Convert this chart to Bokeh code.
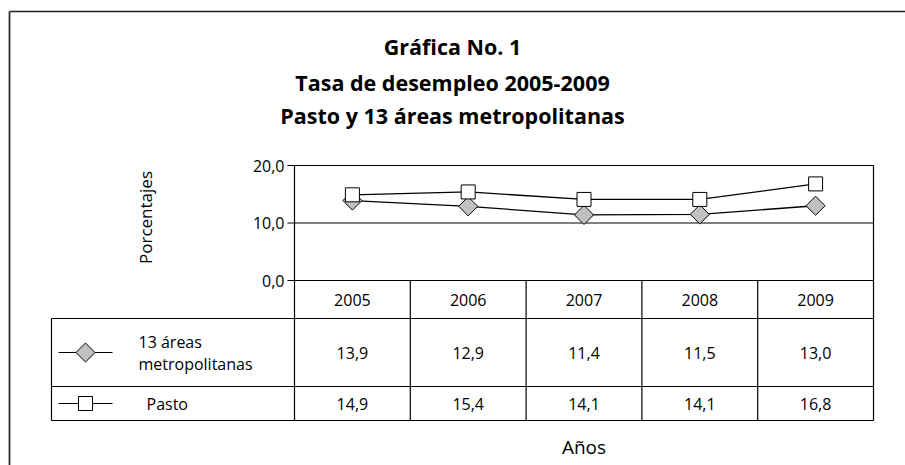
from bokeh.plotting import figure
from bokeh.models import Range1d
from bokeh.core.properties import value
from bokeh.embed import file_html
from bokeh.resources import INLINE
import math

# ---------------- data ----------------
years = ["2005", "2006", "2007", "2008", "2009"]
areas13 = [13.9, 12.9, 11.4, 11.5, 13.0]
pasto = [14.9, 15.4, 14.1, 14.1, 16.8]
y_ticks = [0, 10, 20]
series1_label = ["13 áreas", "metropolitanas"]
series2_label = "Pasto"
title_lines = ["Gráfica No. 1", "Tasa de desempleo 2005-2009", "Pasto y 13 áreas metropolitanas"]
y_title = "Porcentajes"
x_title = "Años"

# ---------------- layout (image pixels) ----------------
W, H = 905, 465
OFF = 0
PL, PR = 294, 873          # plot frame left / right
PY0, PY20 = 280, 165       # image y of value 0 and of value 20
Y_MAX = 20
TL = 51                    # table left edge
R1T, R1B, R2B = 318, 386, 420   # table rows
FONT = value("Open Sans")

n = len(years)
colw = (PR - PL) / n
k = (PY0 - PY20) / Y_MAX   # px per unit


def X(px):  # image x -> data x (index units)
    return (px - PL) / colw - 0.5


def Y(py):  # image y -> data y (value units)
    return (PY0 - py) / k


p = figure(width=W, height=H,
           x_range=Range1d(X(OFF), X(OFF + W)),
           y_range=Range1d(Y(OFF + H), Y(OFF)),
           x_axis_type=None, y_axis_type=None,
           output_backend="svg", toolbar_location=None,
           min_border=0, outline_line_color=None)
p.grid.visible = False
p.background_fill_color = "white"
p.border_fill_color = "white"

idx = list(range(n))
fmt = lambda v: f"{v:.1f}".replace(".", ",")

# outer frame (extends beyond the window on right and bottom)
p.segment(x0=[X(9), X(9)], y0=[Y(11), Y(11)], x1=[X(9), X(930)], y1=[Y(490), Y(11)],
          line_color="#222222", line_width=1.7)

# titles
for t, py in zip(title_lines, [46, 82, 115]):
    p.text(x=[X(452)], y=[Y(py)], text=[t], text_font=FONT, text_font_style="bold",
           text_font_size="21.5px", text_align="center", text_baseline="middle", text_color="black")

# plot area: gridlines at ticks (with ticks extending left), frame sides
p.segment(x0=[X(287)] * len(y_ticks), y0=y_ticks, x1=[X(PR)] * len(y_ticks), y1=y_ticks,
          line_color="black", line_width=1.2)
p.segment(x0=[X(PL), X(PR)], y0=[Y_MAX, Y_MAX], x1=[X(PL), X(PR)], y1=[Y(R2B), Y(R2B)],
          line_color="black", line_width=1.2)
p.text(x=[X(284)] * len(y_ticks), y=y_ticks, text=[fmt(v) for v in y_ticks],
       text_font=FONT, text_font_size="16px", text_align="right", text_baseline="middle",
       text_color="black")
p.text(x=[X(145)], y=[Y(217)], text=[y_title], angle=math.pi / 2, text_font=FONT,
       text_font_size="17px", text_align="center", text_baseline="middle", text_color="black")

# table grid
col_edges = [i - 0.5 for i in range(1, n)]
p.segment(x0=col_edges, y0=[0] * len(col_edges), x1=col_edges, y1=[Y(R2B)] * len(col_edges),
          line_color="black", line_width=1.2)
p.segment(x0=[X(TL)] * 3, y0=[Y(R1T), Y(R1B), Y(R2B)], x1=[X(PR)] * 3,
          y1=[Y(R1T), Y(R1B), Y(R2B)], line_color="black", line_width=1.2)
p.segment(x0=[X(TL)], y0=[Y(R1T)], x1=[X(TL)], y1=[Y(R2B)], line_color="black", line_width=1.2)

# header years
p.text(x=idx, y=[Y(299)] * n, text=years, text_font=FONT, text_font_size="16px",
       text_align="center", text_baseline="middle", text_color="black")

# values rows
r1c, r2c = (R1T + R1B) / 2, (R1B + R2B) / 2
p.text(x=idx, y=[Y(r1c)] * n, text=[fmt(v) for v in areas13],
       text_font=FONT, text_font_size="16px", text_align="center", text_baseline="middle",
       text_color="black")
p.text(x=idx, y=[Y(r2c)] * n, text=[fmt(v) for v in pasto],
       text_font=FONT, text_font_size="16px", text_align="center", text_baseline="middle",
       text_color="black")

# legend samples in the table
p.line(x=[X(58), X(112)], y=[Y(r1c), Y(r1c)], line_color="black", line_width=1.2)
p.scatter(x=[X(85)], y=[Y(r1c)], marker="square", angle=math.pi / 4, size=13.5,
          fill_color="#c0c0c0", line_color="black", line_width=1)
p.line(x=[X(58), X(112)], y=[Y(r2c), Y(r2c)], line_color="black", line_width=1.2)
p.scatter(x=[X(85)], y=[Y(r2c)], marker="square", size=14,
          fill_color="white", line_color="black", line_width=1)
p.text(x=[X(138), X(138)], y=[Y(341), Y(363)], text=series1_label, text_font=FONT,
       text_font_size="16px", text_align="left", text_baseline="middle", text_color="black")
p.text(x=[X(146)], y=[Y(r2c)], text=[series2_label], text_font=FONT,
       text_font_size="16px", text_align="left", text_baseline="middle", text_color="black")

# x title
p.text(x=[(n - 1) / 2], y=[Y(446)], text=[x_title], text_font=FONT, text_font_size="19px",
       text_align="center", text_baseline="middle", text_color="black")

# data series
p.line(x=idx, y=pasto, line_color="black", line_width=1.3)
p.line(x=idx, y=areas13, line_color="black", line_width=1.3)
p.scatter(x=idx, y=areas13, marker="square", angle=math.pi / 4, size=13.5,
          fill_color="#c0c0c0", line_color="black", line_width=1)
p.scatter(x=idx, y=pasto, marker="square", size=14,
          fill_color="white", line_color="black", line_width=1)

open("out.html", "w").write(file_html(p, INLINE))
